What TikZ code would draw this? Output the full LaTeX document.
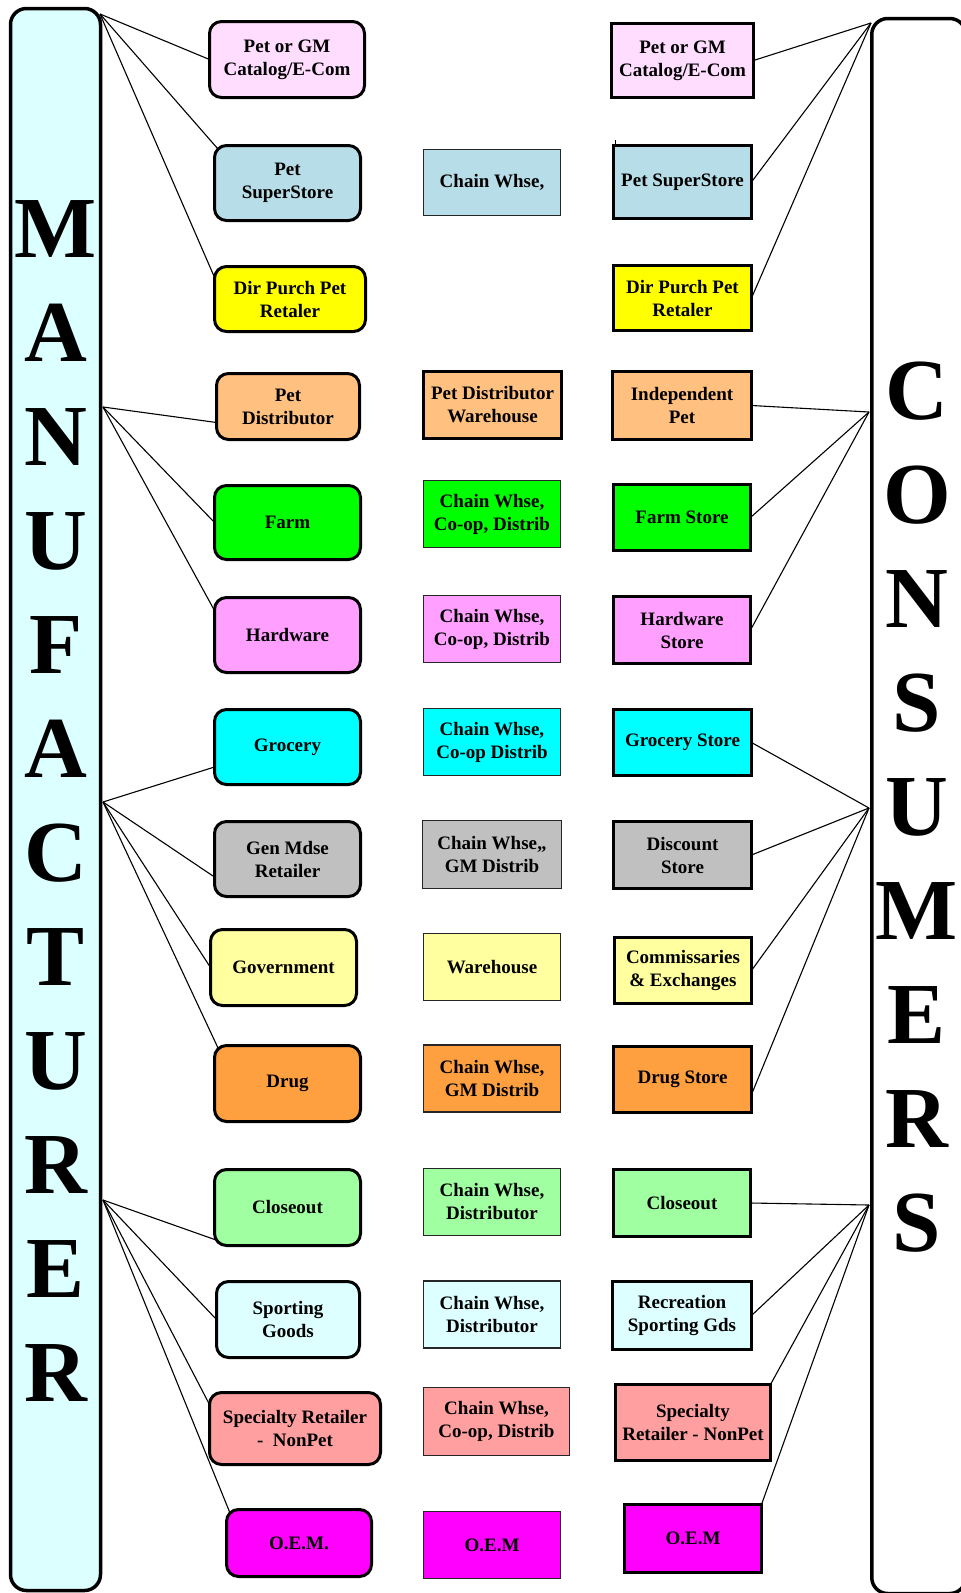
\documentclass[tikz,border=0pt]{standalone}
\usepackage{fontspec}
\setmainfont{Liberation Serif}
\usetikzlibrary{calc}
\definecolor{manubg}{HTML}{DCFFFF}
\definecolor{cA}{HTML}{FFDDFF}
\definecolor{cB}{HTML}{B7DEE8}
\definecolor{cC}{HTML}{FFFF00}
\definecolor{cD}{HTML}{FFC080}
\definecolor{cE}{HTML}{00FF00}
\definecolor{cF}{HTML}{FF9FFF}
\definecolor{cG}{HTML}{00FFFF}
\definecolor{cH}{HTML}{C0C0C0}
\definecolor{cI}{HTML}{FFFF9F}
\definecolor{cJ}{HTML}{FFA040}
\definecolor{cK}{HTML}{A0FFA0}
\definecolor{cL}{HTML}{DDFFFF}
\definecolor{cM}{HTML}{FF9F9F}
\definecolor{cN}{HTML}{FF00FF}
\begin{document}
\begin{tikzpicture}[x=1pt,y=-1pt,
  every node/.style={inner sep=0pt, outer sep=0pt},
  txt/.style={font=\bfseries\fontsize{19}{23}\selectfont, align=center},
  mbox/.style={txt, draw, line width=3pt, rounded corners=12pt},
  wbox/.style={txt, draw=black!85, line width=1.3pt},
  cbox/.style={txt, draw, line width=3pt},
  link/.style={line width=1.1pt},
  big/.style={font=\bfseries\fontsize{87}{87}\selectfont, anchor=base}
]
\useasboundingbox (0,0) rectangle (961,1593);

% side bars
\node[draw, line width=3.5pt, fill=manubg, rounded corners=16pt, minimum width=90pt, minimum height=1582pt] (manu) at (55.5,799.5) {};
\node[draw, line width=3.5pt, fill=white, rounded corners=16pt, minimum width=94pt, minimum height=1575pt] (cons) at (918.75,806) {};
\foreach \l [count=\i from 0] in {M,A,N,U,F,A,C,T,U,R,E,R}
  \node[big] (mL\i) at (56,{257+104*\i}) {\l};
\foreach \l [count=\i from 0] in {C,O,N,S,U,M,E,R,S}
  \node[big] (cL\i) at (917,{419+104*\i}) {\l};

% left column
\node[mbox, fill=cA, minimum width=155pt, minimum height=76pt] (L1) at (287,59.5) {Pet or GM\\Catalog/E-Com};
\node[mbox, fill=cB, minimum width=146pt, minimum height=75pt] (L2) at (287.5,183) {Pet\\SuperStore};
\node[mbox, fill=cC, minimum width=151pt, minimum height=65pt] (L3) at (290,299) {Dir Purch Pet\\Retaler};
\node[mbox, fill=cD, minimum width=143pt, minimum height=66pt] (L4) at (288,406.5) {Pet\\Distributor};
\node[mbox, fill=cE, minimum width=146pt, minimum height=74pt] (L5) at (287.5,522.5) {Farm};
\node[mbox, fill=cF, minimum width=146pt, minimum height=75pt] (L6) at (287.5,635) {Hardware};
\node[mbox, fill=cG, minimum width=146pt, minimum height=75pt] (L7) at (287.5,747) {Grocery};
\node[mbox, fill=cH, minimum width=146pt, minimum height=75pt] (L8) at (287.5,859) {Gen Mdse\\Retailer};
\node[mbox, fill=cI, minimum width=146pt, minimum height=76pt] (L9) at (283.5,967.5) {Government};
\node[mbox, fill=cJ, minimum width=146pt, minimum height=76pt] (L10) at (287.5,1083.5) {Drug};
\node[mbox, fill=cK, minimum width=146pt, minimum height=76pt] (L11) at (287.5,1207.5) {Closeout};
\node[mbox, fill=cL, minimum width=143pt, minimum height=76pt] (L12) at (288,1319.5) {Sporting\\Goods};
\node[mbox, fill=cM, minimum width=171pt, minimum height=72pt] (L13) at (295,1428.5) {Specialty Retailer\\-~~NonPet};
\node[mbox, fill=cN, minimum width=145pt, minimum height=67pt] (L14) at (299,1543) {O.E.M.};

% middle column
\node[wbox, fill=cB, minimum width=137pt, minimum height=66pt] (M2) at (492,182.5) {Chain Whse,};
\node[wbox, fill=cD, draw=black, line width=3pt, minimum width=138pt, minimum height=67pt] (M4) at (492.5,405) {Pet Distributor\\Warehouse};
\node[wbox, fill=cE, minimum width=137pt, minimum height=67pt] (M5) at (492,514) {Chain Whse,\\Co-op, Distrib};
\node[wbox, fill=cF, minimum width=137pt, minimum height=67pt] (M6) at (492,629) {Chain Whse,\\Co-op, Distrib};
\node[wbox, fill=cG, minimum width=137pt, minimum height=67pt] (M7) at (492,742) {Chain Whse,\\Co-op Distrib};
\node[wbox, fill=cH, minimum width=139pt, minimum height=68pt] (M8) at (492,854.5) {Chain Whse,,\\GM Distrib};
\node[wbox, fill=cI, minimum width=137pt, minimum height=67pt] (M9) at (492,967) {Warehouse};
\node[wbox, fill=cJ, minimum width=137pt, minimum height=67pt] (M10) at (492,1078.5) {Chain Whse,\\GM Distrib};
\node[wbox, fill=cK, minimum width=137pt, minimum height=67pt] (M11) at (492,1202) {Chain Whse,\\Distributor};
\node[wbox, fill=cL, minimum width=137pt, minimum height=67pt] (M12) at (492,1314.5) {Chain Whse,\\Distributor};
\node[wbox, fill=cM, minimum width=146pt, minimum height=68pt] (M13) at (496.5,1421.5) {Chain Whse,\\Co-op, Distrib};
\node[wbox, fill=cN, minimum width=137pt, minimum height=67pt] (M14) at (492,1545) {O.E.M};

% right column
\node[cbox, fill=cA, minimum width=142pt, minimum height=74pt] (R1) at (682.5,60.5) {Pet or GM\\Catalog/E-Com};
\node[cbox, fill=cB, minimum width=138pt, minimum height=73pt] (R2) at (682.5,182) {Pet SuperStore};
\node[cbox, fill=cC, minimum width=138pt, minimum height=65pt] (R3) at (682.5,298) {Dir Purch Pet\\Retaler};
\node[cbox, fill=cD, minimum width=139pt, minimum height=68pt] (R4) at (682,405.5) {Independent\\Pet};
\node[cbox, fill=cE, minimum width=137pt, minimum height=66pt] (R5) at (682,517.5) {Farm Store};
\node[cbox, fill=cF, minimum width=137pt, minimum height=67pt] (R6) at (682,630) {Hardware\\Store};
\node[cbox, fill=cG, minimum width=138pt, minimum height=66pt] (R7) at (682.5,742.5) {Grocery Store};
\node[cbox, fill=cH, minimum width=138pt, minimum height=67pt] (R8) at (682.5,855) {Discount\\Store};
\node[cbox, fill=cI, minimum width=137pt, minimum height=66pt] (R9) at (683,970.5) {Commissaries\\\& Exchanges};
\node[cbox, fill=cJ, minimum width=138pt, minimum height=66pt] (R10) at (682.5,1079.5) {Drug Store};
\node[cbox, fill=cK, minimum width=137pt, minimum height=67pt] (R11) at (682,1203) {Closeout};
\node[cbox, fill=cL, minimum width=139pt, minimum height=68pt] (R12) at (682,1315.5) {Recreation\\Sporting Gds};
\node[cbox, fill=cM, minimum width=155pt, minimum height=76pt] (R13) at (693,1422.5) {Specialty\\Retailer - NonPet};
\node[cbox, fill=cN, minimum width=137pt, minimum height=68pt] (R14) at (693,1538.5) {O.E.M};

% hubs
\coordinate (mh1) at (100,14);
\coordinate (mh2) at (103,407);
\coordinate (mh3) at (103,802);
\coordinate (mh4) at (103,1200);
\coordinate (ch1) at (871,23);
\coordinate (ch2) at (869,412);
\coordinate (ch3) at (869,808);
\coordinate (ch4) at (869,1205);

% manufacturer links
\draw[link] (mh1) -- (L1.west);
\draw[link] (mh1) -- ($(L2.north west)+(3.5,3.5)$);
\draw[link] (mh1) -- ($(L3.north west)+(0.5,12)$);
\draw[link] (mh2) -- ($(L4.west)+(0,16)$);
\draw[link] (mh2) -- (L5.west);
\draw[link] (mh2) -- ($(L6.north west)+(0.5,14)$);
\draw[link] (mh3) -- ($(L7.west)+(0,20)$);
\draw[link] (mh3) -- ($(L8.west)+(0,18)$);
\draw[link] (mh3) -- (L9.west);
\draw[link] (mh3) -- ($(L10.north west)+(4,3.5)$);
\draw[link] (mh4) -- ($(L11.south west)+(3,-5)$);
\draw[link] (mh4) -- (L12.west);
\draw[link] (mh4) -- ($(L13.north west)+(0.5,13)$);
\draw[link] (mh4) -- ($(L14.north west)+(3.5,3.5)$);

% consumer links
\draw[link] (ch1) -- (R1.east);
\draw[link] (ch1) -- (R2.east);
\draw[link] (ch1) -- (R3.east);
\draw[link] (ch2) -- (R4.east);
\draw[link] (ch2) -- (R5.east);
\draw[link] (ch2) -- (R6.east);
\draw[link] (ch3) -- (R7.east);
\draw[link] (ch3) -- (R8.east);
\draw[link] (ch3) -- (R9.east);
\draw[link] (ch3) -- ($(R10.east)+(0,15)$);
\draw[link] (ch4) -- (R11.east);
\draw[link] (ch4) -- (R12.east);
\draw[link] (ch4) -- (R13.north east);
\draw[link] (ch4) -- (R14.north east);

% small stub above Pet SuperStore
\coordinate (stub) at ($(R2.north west)+(1.5,-6)$);
\draw[line width=1pt] ($(R2.north west)+(1.5,0)$) -- (stub);
\end{tikzpicture}
\end{document}
